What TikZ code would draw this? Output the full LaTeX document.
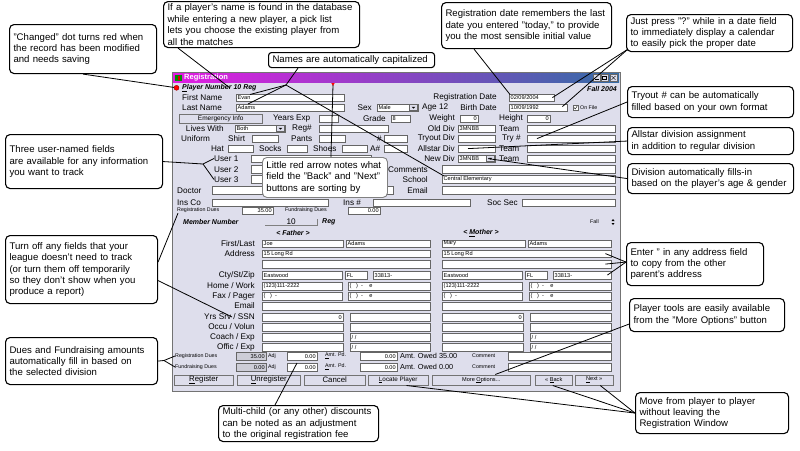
\documentclass[tikz,border=0pt]{standalone}
\usepackage{fontspec}
\setmainfont{Liberation Sans}
\usetikzlibrary{calc}

\definecolor{winbg}{RGB}{222,222,236}
\definecolor{ttlL}{RGB}{226,28,226}
\definecolor{ttlR}{RGB}{52,108,166}
\definecolor{disbg}{RGB}{205,205,215}

\newcommand{\cofont}{\fontsize{9.6}{11.4}\selectfont}
\newcommand{\lbfont}{\fontsize{8.2}{9}\selectfont}
\newcommand{\fdfont}{\fontsize{5.6}{6}\selectfont}

% field: [opts] name, x, y (top), width, text
\newcommand{\fld}[6][]{\node[fld,minimum width=#5pt,#1] (#2) at (#3,#4) {};
  \node[fldtxt,anchor=west] (#2t) at ($(#2.west)+(1.5,0)$) {#6};}
\newcommand{\fldr}[6][]{\node[fld,minimum width=#5pt,#1] (#2) at (#3,#4) {};
  \node[fldtxt,anchor=east] (#2t) at ($(#2.east)+(-1.5,0)$) {#6};}
% label: [anchor] name, x, y, text
\newcommand{\lbl}[5][west]{\node[lbl,anchor=#1] (#2) at (#3,#4) {#5};}
% drop-down button on a field
\newcommand{\drop}[1]{\node[fld,minimum width=8pt,minimum height=6pt,fill=winbg,anchor=north east] (#1d) at ($(#1.north east)+(-0.7,0.7)$) {};
  \fill ($(#1d.center)+(-1.8,-0.6)$) -- ++(3.6,0) -- ++(-1.8,1.8) -- cycle;}

\tikzset{
  note/.style={draw, line width=1.1pt, rounded corners=4.5pt, fill=white, align=left,
    anchor=north west, inner xsep=4pt, inner ysep=1pt, font=\cofont},
  notegray/.style={note, draw=black!50, line width=0.9pt},
  leader/.style={line width=0.8pt},
  lbl/.style={inner sep=0pt, font=\lbfont},
  blbl/.style={inner sep=0pt, font=\fontsize{7}{8}\selectfont\bfseries\itshape},
  tlbl/.style={inner sep=0pt, anchor=west, font=\fontsize{5.3}{6}\selectfont},
  fld/.style={draw=black!60, fill=white, line width=0.4pt, minimum height=7.8pt,
    inner sep=0pt, anchor=north west},
  fldtxt/.style={inner sep=0pt, font=\fdfont},
  btn/.style={draw=black!55, fill=winbg, line width=0.5pt, minimum height=10.5pt,
    inner sep=0pt, anchor=north west, font=\fontsize{7.8}{8}\selectfont},
}

\begin{document}
\begin{tikzpicture}[x=1pt,y=-1pt]
  \useasboundingbox (0,0) rectangle (800,450);
  \fill[white] (0,0) rectangle (800,450);

  % window
  \draw[fill=winbg,draw=black!55] (172,72) rectangle (620,391);
  \shade[left color=ttlL,right color=ttlR] (173,73) rectangle (619,82.5);
  \fill[green!55!black] (175,74.5) rectangle (182,81);
  \fill[red!85!black] (177.5,76) rectangle (180,79.5);
  \node[inner sep=0pt,anchor=west,text=white,font=\fontsize{7.5}{8}\selectfont\bfseries] (title) at (184,77.8) {Registration};
  \foreach \x in {593,601,610} \draw[fill=winbg,draw=black!60] (\x,74.5) rectangle ++(7,6.5);
  \draw (594.5,79.3) -- (598.5,79.3);
  \draw (602.5,76) rectangle (606.5,79.5);
  \draw (611.5,76) -- (615.5,79.8) (611.5,79.8) -- (615.5,76);

  % player number
  \node[circle,fill=red,draw=red!60!black,inner sep=0pt,minimum size=5pt] (dot) at (176.5,87.8) {};
  \node[blbl,anchor=west] (lPlayer) at (182,88) {\underline{P}layer Number 10 Reg};
  \node[blbl,anchor=east] (lFall) at (617,88.5) {Fall 2004};
  \fill[red] (331.3,83) -- (334.7,83) -- (333,86) -- cycle;
  \coordinate (redArrow) at (333,85);

  % player
  \lbl{lFirst}{182}{97.5}{First Name}
  \fld{fFirst}{236}{93.5}{108}{Evan}
  \lbl[east]{lRegDate}{497}{97.5}{Registration Date}
  \fld{fRegDate}{509}{93.5}{45}{02/09/2004}
  \lbl{lLast}{182}{107.5}{Last Name}
  \fld{fLast}{236}{103.5}{108}{Adams}
  \lbl[east]{lSex}{372}{107.5}{Sex}
  \fld{fSex}{377}{103.5}{41}{Male}
  \drop{fSex}
  \lbl{lAge}{422}{107.5}{Age 12}
  \lbl[east]{lBirth}{497}{107.5}{Birth Date}
  \fld{fBirth}{509}{103.5}{58}{10/09/1992}
  \node[fld,minimum width=5pt,minimum height=5pt] (chk) at (573,105) {};
  \draw (574,107.5) -- (575.3,109) -- (577.2,106);
  \node[tlbl] (lOnFile) at (580,107.5) {On File};

  \node[btn,minimum width=83pt,minimum height=8.5pt,font=\fontsize{6.5}{7}\selectfont] (bEmerg) at (179,114) {Emergency Info};
  \lbl{lYears}{273}{118.5}{Years Exp}
  \fld{fYears}{319}{114.5}{19}{}
  \lbl[east]{lGrade}{386}{118.5}{Grade}
  \fld{fGrade}{391}{114.5}{19}{8}
  \lbl[east]{lWeight}{455}{118.5}{Weight}
  \fldr{fWeight}{460}{114.5}{18}{0}
  \lbl[east]{lHeight}{523}{118.5}{Height}
  \fldr{fHeight}{527}{114.5}{23}{0}

  \lbl[east]{lLives}{224}{128.5}{Lives With}
  \fld{fLives}{235}{124.5}{50}{Both}
  \drop{fLives}
  \lbl{lRegNo}{292}{128.5}{Reg\#}
  \fld{fRegNo}{319}{124.5}{69}{}
  \lbl[east]{lOldDiv}{455}{128.5}{Old Div}
  \fld{fOldDiv}{458}{124.5}{37}{3MNBB}
  \lbl{lTeam1}{499}{128.5}{Team}
  \fld{fTeam1}{527}{124.5}{88}{}

  \lbl{lUniform}{181}{138.5}{Uniform}
  \lbl{lShirt}{228}{138.5}{Shirt}
  \fld{fShirt}{252}{134.5}{26}{}
  \lbl{lPants}{291}{138.5}{Pants}
  \fld{fPants}{319}{134.5}{26}{}
  \lbl[east]{lNum}{382}{138.5}{\#}
  \fld{fNum}{384}{134.5}{23}{}
  \lbl[east]{lTryDiv}{455}{138.5}{Tryout Div}
  \fld{fTryDiv}{458}{134.5}{37}{}
  \lbl{lTry}{502}{138.5}{Try \#}
  \fld{fTry}{527}{134.5}{88}{}

  \lbl[east]{lHat}{224}{148.5}{Hat}
  \fld{fHat}{228}{144.5}{25}{}
  \lbl{lSocks}{259}{148.5}{Socks}
  \fld{fSocks}{287}{144.5}{20}{}
  \lbl{lShoes}{313}{148.5}{Shoes}
  \fld{fShoes}{342}{144.5}{25}{}
  \lbl{lAno}{370}{148.5}{A\#}
  \fld{fAno}{384}{144.5}{23}{}
  \lbl[east]{lAllDiv}{455}{148.5}{Allstar Div}
  \fld{fAllDiv}{458}{144.5}{37}{}
  \lbl{lTeam2}{499}{148.5}{Team}
  \fld{fTeam2}{527}{144.5}{88}{}

  \lbl{lUser1}{214}{158.5}{User 1}
  \fld{fUser1}{251}{154.5}{120}{}
  \lbl[east]{lNewDiv}{455}{158.5}{New Div}
  \fld{fNewDiv}{458}{154.5}{37}{3MNBB}
  \drop{fNewDiv}
  \lbl{lTeam3}{499}{158.5}{Team}
  \fld{fTeam3}{527}{154.5}{88}{}

  \lbl{lUser2}{214}{169.5}{User 2}
  \fld{fUser2}{251}{165}{120}{}
  \lbl[east]{lComments}{428}{169.5}{Comments}
  \fld{fComments}{442}{165}{173}{}
  \lbl{lUser3}{214}{179.5}{User 3}
  \fld{fUser3}{251}{175}{120}{}
  \lbl[east]{lSchool}{428}{179.5}{School}
  \fld{fSchool}{442}{175}{173}{Central Elementary}
  \lbl{lDoctor}{177}{190.5}{Doctor}
  \fld{fDoctor}{212}{186}{181}{}
  \lbl[east]{lEmail}{428}{190.5}{Email}
  \fld{fEmail}{442}{186}{173}{}
  \lbl{lInsCo}{177}{202.5}{Ins Co}
  \fld{fInsCo}{212}{198.5}{116}{}
  \lbl{lInsNo}{343}{202.5}{Ins \#}
  \fld{fInsNo}{373}{198.5}{97}{}
  \lbl{lSocSec}{487}{202.5}{Soc Sec}
  \fld{fSocSec}{522}{198.5}{93}{}

  \node[tlbl] (lRegDues) at (177,210.5) {Registration Dues};
  \fldr{fRegDues}{242}{206.5}{31}{35.00}
  \node[tlbl] (lFundDues) at (285,210.5) {Fundraising Dues};
  \fldr{fFundDues}{348}{206.5}{32}{0.00}

  % member
  \node[blbl,anchor=west] (lMember) at (183,222) {Member Number};
  \node[lbl,minimum width=52pt,anchor=west] (fMember) at (265,222) {10};
  \draw[black!50] (fMember.south west) -- (fMember.south east) -- (fMember.north east);
  \node[blbl,anchor=west] (lReg) at (322,222) {Reg};
  \node[tlbl] (lFallS) at (590,222) {Fall};
  \fill (611.5,221) -- (614.5,221) -- (613,219) -- cycle;
  \fill (611.5,223) -- (614.5,223) -- (613,225) -- cycle;
  \node[blbl] (lFather) at (293,233) {< Father >};
  \node[blbl] (lMother) at (481,233) {< \underline{M}other >};

  % parents
  \lbl[east]{lFirstLast}{255}{243.5}{First/Last}
  \lbl[east]{lAddr}{255}{253.5}{Address}
  \lbl[east]{lCity}{255}{275}{Cty/St/Zip}
  \lbl[east]{lHome}{255}{286}{Home / Work}
  \lbl[east]{lFax}{255}{296}{Fax / Pager}
  \lbl[east]{lPEmail}{255}{306}{Email}
  \lbl[east]{lYrs}{255}{317}{Yrs Srv / SSN}
  \lbl[east]{lOccu}{255}{327}{Occu / Volun}
  \lbl[east]{lCoach}{255}{337}{Coach / Exp}
  \lbl[east]{lOffic}{255}{347}{Offic / Exp}

  % father
  \fld{fFaFirst}{262}{239.5}{81}{Joe}
  \fld{fFaLast}{346}{239.5}{84}{Adams}
  \fld{fFaAddr}{262}{249.5}{168}{15 Long Rd}
  \fld{fFaAddr2}{262}{260}{168}{}
  \fld{fFaCity}{262}{271}{80}{Eastwood}
  \fld{fFaSt}{345}{271}{22}{FL}
  \fld{fFaZip}{373}{271}{57}{33813-}
  \fld{fFaHome}{262}{282}{80}{(123)111-2222}
  \fld{fFaWork}{348}{282}{82}{(\ \ \ )\ \ -\ \ \ \ e}
  \fld{fFaFax}{262}{292}{80}{(\ \ \ )\ \ -}
  \fld{fFaPager}{348}{292}{82}{(\ \ \ )\ \ -\ \ \ \ e}
  \fld{fFaEmail}{262}{302}{168}{}
  \fldr{fFaYrs}{262}{313}{81}{0}
  \fld{fFaSSN}{350}{313}{80}{}
  \fld{fFaOccu}{262}{323}{81}{}
  \fld{fFaVol}{350}{323}{80}{}
  \fld{fFaCoach}{262}{333}{81}{}
  \fld{fFaExp}{350}{333}{80}{/ /}
  \fld{fFaOffic}{262}{343}{81}{}
  \fld{fFaOExp}{350}{343}{80}{/ /}

  % mother
  \fld{fMoFirst}{442}{239.5}{83}{Mary}
  \fld{fMoLast}{528}{239.5}{83}{Adams}
  \fld{fMoAddr}{442}{249.5}{169}{15 Long Rd}
  \fld{fMoAddr2}{442}{260}{169}{}
  \fld{fMoCity}{442}{271}{80}{Eastwood}
  \fld{fMoSt}{525}{271}{22}{FL}
  \fld{fMoZip}{553}{271}{58}{33813-}
  \fld{fMoHome}{442}{282}{80}{(123)111-2222}
  \fld{fMoWork}{529}{282}{82}{(\ \ \ )\ \ -\ \ \ \ e}
  \fld{fMoFax}{442}{292}{80}{(\ \ \ )\ \ -}
  \fld{fMoPager}{529}{292}{82}{(\ \ \ )\ \ -\ \ \ \ e}
  \fld{fMoEmail}{442}{302}{169}{}
  \fldr{fMoYrs}{442}{313}{81}{0}
  \fld{fMoSSN}{530}{313}{81}{}
  \fld{fMoOccu}{442}{323}{81}{}
  \fld{fMoVol}{530}{323}{81}{}
  \fld{fMoCoach}{442}{333}{81}{}
  \fld{fMoExp}{530}{333}{81}{/ /}
  \fld{fMoOffic}{442}{343}{81}{}
  \fld{fMoOExp}{530}{343}{81}{/ /}

  % dues
  \node[tlbl] (lRegDues2) at (175,356) {Registration Dues};
  \fldr[fill=disbg]{fRegDues2}{236}{352}{30}{35.00}
  \node[tlbl] (lAdj1) at (268,356) {Adj};
  \fldr{fAdj1}{287}{352}{30}{0.00}
  \node[tlbl] (lPd1) at (325,356) {\underline{A}mt. Pd.};
  \fldr{fPd1}{360}{352}{37}{0.00}
  \node[lbl,anchor=west,font=\fontsize{7.3}{8}\selectfont] (lOwed1) at (400,356) {Amt. Owed 35.00};
  \node[tlbl] (lCom1) at (472,356) {Comment};
  \fld{fCom1}{508}{352}{103}{}
  \node[tlbl] (lFundDues2) at (175,367) {Fundraising Dues};
  \fldr[fill=disbg]{fFundDues2}{236}{363}{30}{0.00}
  \node[tlbl] (lAdj2) at (268,367) {Adj};
  \fldr{fAdj2}{287}{363}{30}{0.00}
  \node[tlbl] (lPd2) at (325,367) {\underline{A}mt. Pd.};
  \fldr{fPd2}{360}{363}{37}{0.00}
  \node[lbl,anchor=west,font=\fontsize{7.3}{8}\selectfont] (lOwed2) at (400,367) {Amt. Owed 0.00};
  \node[tlbl] (lCom2) at (472,367) {Comment};
  \fld{fCom2}{508}{363}{103}{}

  % buttons
  \node[btn,minimum width=59pt] (bRegister) at (174,374.5) {\underline{R}egister};
  \node[btn,minimum width=63pt] (bUnreg) at (237,374.5) {\underline{U}nregister};
  \node[btn,minimum width=61pt] (bCancel) at (304,374.5) {Cancel};
  \node[btn,minimum width=60pt,font=\fontsize{6.3}{7}\selectfont] (bLocate) at (368,374.5) {\underline{L}ocate Player};
  \node[btn,minimum width=98pt,font=\fontsize{5.6}{6}\selectfont] (bMore) at (432,374.5) {More \underline{O}ptions...};
  \node[btn,minimum width=37pt,font=\fontsize{5.6}{6}\selectfont] (bBack) at (535,374.5) {<< \underline{B}ack};
  \node[btn,minimum width=38pt,font=\fontsize{5.6}{6}\selectfont] (bNext) at (575,374.5) {\underline{N}ext >>};

  % notes
  \node[note,text width=139pt,minimum height=49pt] (cChanged) at (9,24) {"Changed" dot turns red when\\the record has been modified\\and needs saving};
  \node[note,text width=188pt,minimum height=46pt] (cName) at (163,1) {If a player's name is found in the database\\while entering a new player, a pick list\\lets you choose the existing player from\\all the matches};
  \node[note,text width=158pt,minimum height=15pt,rounded corners=3pt] (cCaps) at (268,52) {Names are automatically capitalized};
  \node[note,text width=162pt,minimum height=46pt] (cRegDate) at (441,2) {Registration date remembers the last\\date you entered "today," to provide\\you the most sensible initial value};
  \node[note,text width=158pt,minimum height=37pt] (cPress) at (626,14) {Just press "?" while in a date field\\to immediately display a calendar\\to easily pick the proper date};
  \node[note,text width=158pt,minimum height=31pt] (cTryout) at (627,86) {Tryout \# can be automatically\\filled based on your own format};
  \node[note,text width=158pt,minimum height=27pt] (cAllstar) at (627,127) {Allstar division assignment\\in addition to regular division};
  \node[note,text width=158pt,minimum height=30pt] (cDiv) at (627,163) {Division automatically fills-in\\based on the player's age \& gender};
  \node[note,text width=149pt,minimum height=54pt] (cUser) at (5,134) {Three user-named fields\\are available for any information\\you want to track};
  \node[notegray,text width=117pt,minimum height=40pt] (cArrow) at (262,157) {Little red arrow notes what\\field the "Back" and "Next"\\buttons are sorting by};
  \node[note,text width=144pt,minimum height=68pt] (cTurnOff) at (5,235) {Turn off any fields that your\\league doesn't need to track\\(or turn them off temporarily\\so they don't show when you\\produce a report)};
  \node[note,text width=129pt,minimum height=43pt] (cEnter) at (626,242) {Enter " in any address field\\to copy from the other\\parent's address};
  \node[note,text width=147pt,minimum height=33pt] (cTools) at (629,298) {Player tools are easily available\\from the "More Options" button};
  \node[note,text width=144pt,minimum height=47pt] (cDues) at (5,337) {Dues and Fundraising amounts\\automatically fill in based on\\the selected division};
  \node[note,text width=152pt,minimum height=36pt] (cMulti) at (218,405) {Multi-child (or any other) discounts\\can be noted as an adjustment\\to the original registration fee};
  \node[note,text width=145pt,minimum height=41pt] (cMove) at (635,392) {Move from player to player\\without leaving the\\Registration Window};

  % leaders
  \draw[leader] (cChanged.south) -- (dot);
  \draw[leader] ($(cName.south west)+(15,0)$) -- ($(lPlayer.west)+(48,0)$);
  \coordinate (jCaps) at (286,85);
  \draw[leader] ($(cCaps.south west)+(30,0)$) -- (jCaps);
  \draw[leader] (jCaps) -- ($(fFirst.north west)+(14,1)$);
  \draw[leader] (jCaps) -- ($(fLast.north west)+(12,0.5)$);
  \draw[leader] (jCaps) -- ($(fSchool.north west)+(2,1)$);
  \draw[leader] ($(cArrow.north)+(6,0)$) -- (redArrow);
  \draw[leader] ($(cRegDate.south west)+(33,0)$) -- ($(fRegDate.north west)+(1,1)$);
  \draw[leader] ($(cPress.south west)+(2,-3)$) -- ($(fRegDate.east)+(-2,0)$);
  \draw[leader] ($(cPress.south west)+(2,-3)$) -- ($(fBirth.east)+(-5,-1)$);
  \draw[leader] (cTryout.west) -- ($(fTry.west)+(10,0)$);
  \draw[leader] (cAllstar.west) -- ($(fAllDiv.west)+(10,0)$);
  \draw[leader] (cDiv.west) -- ($(fNewDiv.west)+(30,0)$);
  \coordinate (jUser) at (203,164);
  \draw[leader] (cUser.east) -- (jUser);
  \draw[leader] (jUser) -- (lUser1.west);
  \draw[leader] (jUser) -- (lUser3.west);
  \draw[leader] ($(cTurnOff.north east)+(0,27)$) -- ($(lRegDues.south west)+(1,0)$);
  \draw[leader] ($(cTurnOff.east)+(0,11)$) -- ($(lYrs.east)+(-23,0)$);
  \coordinate (jDues) at (164,360.5);
  \draw[leader] (cDues.east) -- (jDues);
  \draw[leader] (jDues) -- (lRegDues2.west);
  \draw[leader] (jDues) -- (lFundDues2.west);
  \draw[leader] ($(cMulti.north west)+(57,0)$) -- ($(fAdj2.north west)+(10,0)$);
  \draw[leader] ($(cEnter.west)+(0,-2)$) -- ($(fMoAddr.east)+(-6,0)$);
  \draw[leader] ($(cEnter.west)+(0,-2)$) -- ($(fMoAddr2.east)+(-6,0)$);
  \draw[leader] ($(cEnter.west)+(0,-2)$) -- ($(fMoZip.east)+(-4,0)$);
  \draw[leader] ($(cTools.south west)+(0,-8)$) -- ($(bMore.north)+(14,0)$);
  \draw[leader] (cMove.west) -- ($(bBack.south)+(-1,0)$);
  \draw[leader] (cMove.west) -- ($(bNext.south)+(6,0)$);
  \draw[leader] (cMove.west) -- ($(bLocate.south east)+(-22,0)$);
\end{tikzpicture}
\end{document}
